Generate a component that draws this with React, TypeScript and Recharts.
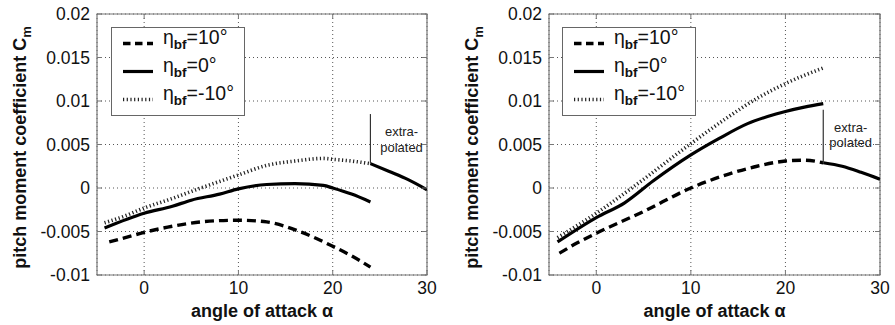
import React from "react";
import {
  LineChart, Line, XAxis, YAxis, CartesianGrid,
  ReferenceArea, ReferenceLine, ReferenceDot, Label,
} from "recharts";

type Pt = { x: number; y: number };

const FONT = '"Liberation Sans", Arial, Helvetica, sans-serif';

// angle of attack (deg) / pitch moment coefficient, left configuration
const leftAlphaDown = [-3.7, -2, 0, 2.5, 6, 10, 13, 16.5, 20, 22, 24];
const leftCmDown    = [-0.0062, -0.0057, -0.0051, -0.0045, -0.0039, -0.0037, -0.0039, -0.005, -0.0067, -0.0078, -0.0091];
const leftAlphaZero = [-4.2, 0, 3, 5, 8, 10, 13, 16, 19, 20, 22, 24];
const leftCmZero    = [-0.0046, -0.0029, -0.0021, -0.0014, -0.0007, -0.0001, 0.0004, 0.0005, 0.0003, 0, -0.0007, -0.0016];
const leftAlphaUp   = [-4.2, -2, 0, 3, 5.5, 10, 13, 16, 19, 20, 22, 24];
const leftCmUp      = [-0.004, -0.0032, -0.0023, -0.0012, -0.0002, 0.0015, 0.0026, 0.0031, 0.0034, 0.0033, 0.0031, 0.0028];
const leftAlphaExtra = [24, 26, 28, 30];
const leftCmExtra    = [0.0028, 0.0019, 0.00096, -0.0002];

// right configuration
const rightAlphaDown = [-3.9, -2, 0, 5, 10, 14, 17, 20, 22, 24];
const rightCmDown    = [-0.0075, -0.0063, -0.0052, -0.0027, 0, 0.0016, 0.0025, 0.0031, 0.0032, 0.0029];
const rightAlphaZero = [-4.1, 0, 3, 6, 10, 13, 16, 19, 20, 22, 24];
const rightCmZero    = [-0.0062, -0.0034, -0.0017, 0.0008, 0.0038, 0.0057, 0.0074, 0.0085, 0.0088, 0.0093, 0.0097];
const rightAlphaUp   = [-4.1, 0, 3, 5, 10, 14, 17, 20, 24];
const rightCmUp      = [-0.0057, -0.0029, -0.0006, 0.001, 0.0051, 0.0082, 0.0103, 0.012, 0.0138];
const rightAlphaExtra = [24, 26, 28, 30];
const rightCmExtra    = [0.0029, 0.0025, 0.0018, 0.001];

const xTicks = [0, 10, 20, 30];
const yTicks = [-0.01, -0.005, 0, 0.005, 0.01, 0.015, 0.02];
const legendValues = ["=10°", "=0°", "=-10°"];

const zip = (a: number[], c: number[]): Pt[] => a.map((x, i) => ({ x, y: c[i] }));

const H = 325;
const PLOT_TOP = 14;
const PLOT_BOTTOM = 275;

const DASH = { stroke: "#000", strokeWidth: 3.4, strokeDasharray: "9 5" };
const SOLID = { stroke: "#000", strokeWidth: 3.2 };
const DOTS = { stroke: "#222", strokeWidth: 3.6, strokeDasharray: "1.2 2.5" };

function LegendBox({ left }: { left: number }) {
  const styles = [
    { ...DASH, strokeDasharray: "7.5 4.5" },
    SOLID,
    DOTS,
  ];
  return (
    <svg
      width={135}
      height={90}
      style={{ position: "absolute", left, top: 27, fontFamily: FONT }}
    >
      <rect x={0.5} y={0.5} width={133} height={88} fill="#fff" stroke="#666" />
      {legendValues.map((v, i) => {
        const yb = 17 + 28 * i;
        return (
          <g key={v}>
            <line x1={12} x2={42} y1={yb - 0.5} y2={yb - 0.5} {...styles[i]} />
            <text x={52} y={yb} fontSize={19.5} fill="#111">
              η
              <tspan fontSize={13.5} fontWeight="bold" dy={5}>bf</tspan>
              <tspan dy={-5}>{v}</tspan>
            </text>
          </g>
        );
      })}
    </svg>
  );
}

function Panel({
  width, plotLeft, plotRight, down, zero, up, extra,
  markTop, noteX, noteY, legendLeft,
}: {
  width: number; plotLeft: number; plotRight: number;
  down: Pt[]; zero: Pt[]; up: Pt[]; extra: Pt[];
  markTop: number; noteX: number; noteY: number; legendLeft: number;
}) {
  const xTick = (p: any) => (
    <g>
      <line x1={p.x} x2={p.x} y1={PLOT_BOTTOM} y2={PLOT_BOTTOM - 5} stroke="#777" />
      <line x1={p.x} x2={p.x} y1={PLOT_TOP} y2={PLOT_TOP + 5} stroke="#777" />
      <text x={p.x} y={p.y} dy="0.71em" textAnchor="middle" fontSize={17.5} fill="#111" fontFamily={FONT}>
        {p.payload.value}
      </text>
    </g>
  );
  const yTick = (p: any) => (
    <g>
      <line x1={plotLeft} x2={plotLeft + 5} y1={p.y} y2={p.y} stroke="#777" />
      <line x1={plotRight} x2={plotRight - 5} y1={p.y} y2={p.y} stroke="#777" />
      <text x={p.x} y={p.y} dy="0.355em" textAnchor="end" fontSize={17.5} fill="#111" fontFamily={FONT}>
        {p.payload.value}
      </text>
    </g>
  );
  const markBase = extra[0];

  return (
    <div style={{ position: "relative", width, height: H }}>
      <LineChart
        width={width}
        height={H}
        margin={{ top: PLOT_TOP, right: width - plotRight, bottom: 0, left: 0 }}
      >
        <CartesianGrid stroke="#555" strokeDasharray="1 3" />
        <XAxis
          type="number"
          dataKey="x"
          domain={[-5, 30]}
          ticks={xTicks}
          allowDataOverflow
          height={H - PLOT_BOTTOM}
          axisLine={false}
          tickLine={false}
          tickSize={0}
          tickMargin={7}
          tick={xTick}
        >
          <Label
            content={(p: any) => {
              const vb = p.viewBox;
              return (
                <text
                  x={vb.x + vb.width / 2}
                  y={vb.y + 42}
                  textAnchor="middle"
                  fontSize={18}
                  fontWeight="bold"
                  fill="#111"
                  fontFamily={FONT}
                >
                  angle of attack α
                </text>
              );
            }}
          />
        </XAxis>
        <YAxis
          type="number"
          domain={[-0.01, 0.02]}
          ticks={yTicks}
          allowDataOverflow
          width={plotLeft}
          axisLine={false}
          tickLine={false}
          tickSize={0}
          tickMargin={7}
          tick={yTick}
        >
          <Label
            content={(p: any) => {
              const vb = p.viewBox;
              const cx = vb.x + vb.width - 71;
              const cy = vb.y + vb.height / 2 + 3;
              return (
                <text
                  x={cx}
                  y={cy}
                  transform={`rotate(-90, ${cx}, ${cy})`}
                  textAnchor="middle"
                  fontSize={18}
                  fontWeight="bold"
                  fill="#111"
                  fontFamily={FONT}
                >
                  pitch moment coefficient C
                  <tspan fontSize={13} dy={5}>m</tspan>
                </text>
              );
            }}
          />
        </YAxis>
        <ReferenceArea
          x1={-5}
          x2={30}
          y1={-0.01}
          y2={0.02}
          fill="none"
          fillOpacity={0}
          stroke="#777"
          strokeWidth={1.2}
        />
        <Line data={down} dataKey="y" type="monotone" dot={false} isAnimationActive={false} {...DASH} />
        <Line data={zero} dataKey="y" type="monotone" dot={false} isAnimationActive={false} {...SOLID} />
        <Line data={up} dataKey="y" type="monotone" dot={false} isAnimationActive={false} {...DOTS} />
        <Line data={extra} dataKey="y" type="monotone" dot={false} isAnimationActive={false} {...SOLID} />
        <ReferenceLine
          segment={[{ x: markBase.x, y: markBase.y }, { x: markBase.x, y: markTop }]}
          stroke="#333"
          strokeWidth={1.2}
        />
        <ReferenceDot
          x={noteX}
          y={noteY}
          r={0}
          shape={(p: any) => (
            <text textAnchor="middle" fontSize={13} fill="#222" fontFamily={FONT}>
              <tspan x={p.cx} y={p.cy - 7.5}>extra-</tspan>
              <tspan x={p.cx} y={p.cy + 8}>polated</tspan>
            </text>
          )}
        />
      </LineChart>
      <LegendBox left={legendLeft} />
    </div>
  );
}

export default function App() {
  return (
    <div
      style={{
        position: "absolute", left: 0, top: 0, width: 895, height: H,
        background: "#fff", display: "flex",
      }}
    >
      <Panel
        width={447}
        plotLeft={97}
        plotRight={427}
        down={zip(leftAlphaDown, leftCmDown)}
        zero={zip(leftAlphaZero, leftCmZero)}
        up={zip(leftAlphaUp, leftCmUp)}
        extra={zip(leftAlphaExtra, leftCmExtra)}
        markTop={0.0085}
        noteX={27.3}
        noteY={0.0051}
        legendLeft={111}
      />
      <Panel
        width={448}
        plotLeft={102}
        plotRight={433}
        down={zip(rightAlphaDown, rightCmDown)}
        zero={zip(rightAlphaZero, rightCmZero)}
        up={zip(rightAlphaUp, rightCmUp)}
        extra={zip(rightAlphaExtra, rightCmExtra)}
        markTop={0.009}
        noteX={26.9}
        noteY={0.0056}
        legendLeft={115}
      />
    </div>
  );
}
